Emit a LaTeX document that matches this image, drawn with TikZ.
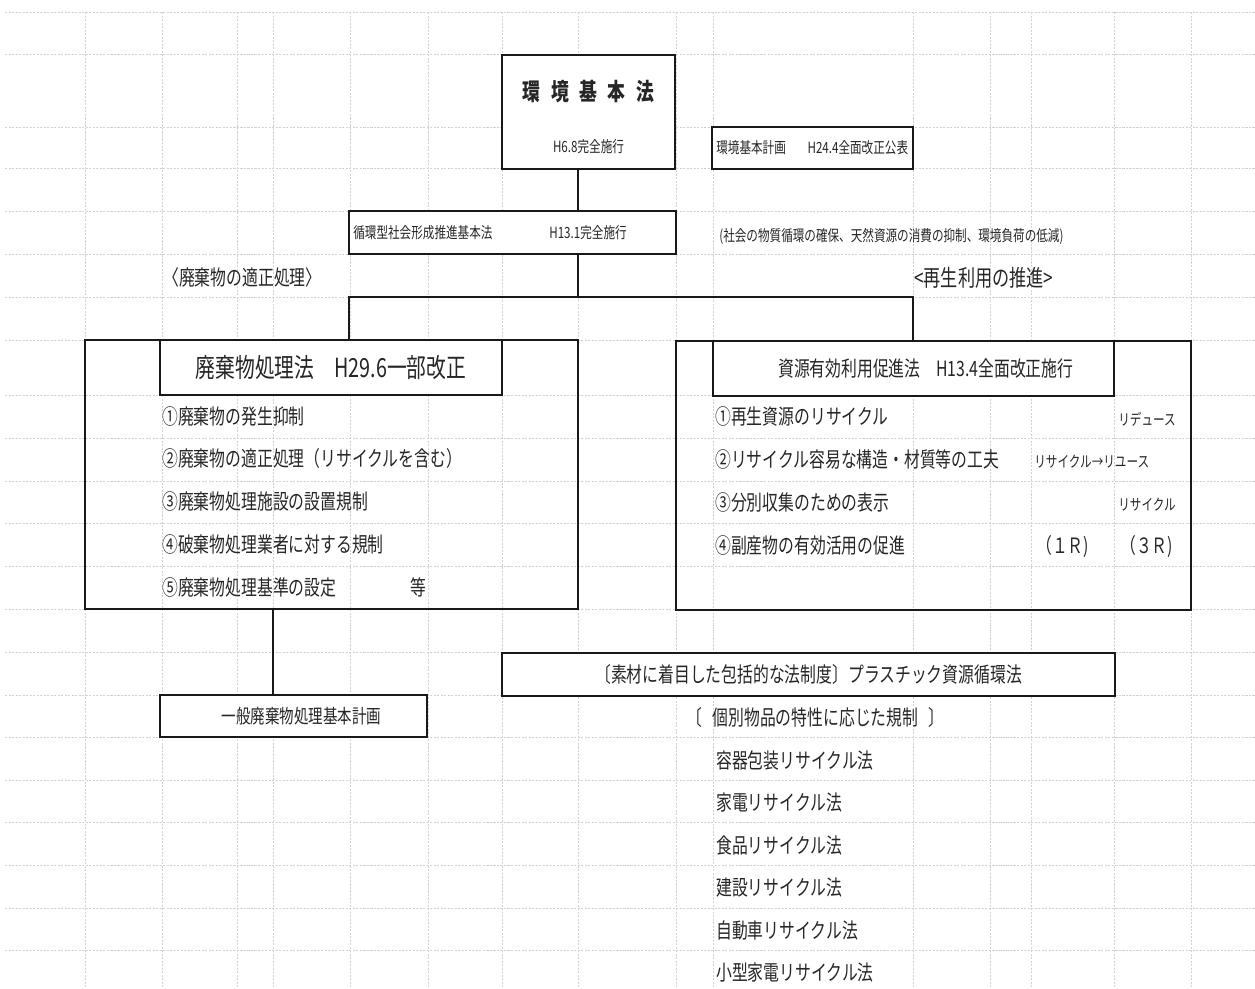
\documentclass[tikz,border=0pt]{standalone}
\usepackage{fontspec}
\setmainfont{Noto Sans CJK JP}[FakeStretch=0.75]
\newcommand{\szS}{\fontsize{8.8pt}{10pt}\selectfont}
\newcommand{\szI}{\fontsize{11pt}{13pt}\selectfont}
\newcommand{\szM}{\fontsize{12pt}{14pt}\selectfont}
\newcommand{\szN}{\fontsize{13pt}{15pt}\selectfont}
\newcommand{\szL}{\fontsize{15pt}{17pt}\selectfont}
\newcommand{\szT}{\fontsize{13.5pt}{15pt}\selectfont\bfseries}
\tikzset{
  gridline/.style={gray!35, line width=0.3pt, dash pattern=on 1.2pt off 0.8pt},
  cell/.style 2 args={draw=black!90, line width=1.1pt, fill=white, inner sep=0pt,
    text=black!85, minimum width=#1*0.02cm, minimum height=#2*0.02cm},
  bigbox/.style 2 args={cell={#1}{#2}, fill=none},
  txt/.style={inner sep=0pt, anchor=west, text=black!85},
  ctr/.style={inner sep=0pt, text=black!85},
  link/.style={draw=black!90, line width=1.1pt},
}

\begin{document}
\begin{tikzpicture}[x=0.02cm, y=-0.02cm]
\useasboundingbox (0,0) rectangle (1255,989);
% sheet grid
\foreach \x in {85,162,237,273,350,428,502,578,676,713,913,990,1031,1114,1191}
  \draw[gridline] (\x,12) -- (\x,989);
\foreach \y in {12,54,127,168,211,254,297,340,395,438,481,523,566,609,652,695,737,780,822,865,908,950}
  \draw[gridline] (5,\y) -- (1255,\y);

% top
\node[cell={173}{114}] (kihon) at (588.5,112) {};
\node[ctr, font=\szT] (kihonname) at (588.5,92) {環\hspace{6pt}境\hspace{6pt}基\hspace{6pt}本\hspace{6pt}法};
\node[ctr, font=\szS] (kihondate) at (588.5,147) {H6.8完全施行};
\node[cell={201}{42}] (keikaku) at (812.5,148) {};
\node[txt, font=\szS] (keikakuname) at (716,148) {環境基本計画\hspace{1.4em}H24.4全面改正公表};

\node[cell={327}{43}] (junkan) at (512.5,232.5) {};
\node[txt, font=\szS] (junkanname) at (353,233) {循環型社会形成推進基本法};
\node[txt, font=\szS] (junkandate) at (549,233) {H13.1完全施行};
\node[txt, font=\szS] (mokuteki) at (719,236) {(社会の物質循環の確保、天然資源の消費の抑制、環境負荷の低減)};

\node[txt, font=\szM] (tekisei) at (163,277) {〈廃棄物の適正処理〉};
\node[txt, font=\szN] (saisei) at (914,278) {<再生利用の推進>};

% two laws
\node[bigbox={493}{269}] (haiki) at (331.5,474.5) {};
\node[cell={342}{55}, font=\szL] (haikihead) at (331,367.5) {廃棄物処理法　H29.6一部改正\hspace{9pt}};
\foreach \t [count=\i] in {①廃棄物の発生抑制, ②廃棄物の適正処理（リサイクルを含む）, ③廃棄物処理施設の設置規制, ④破棄物処理業者に対する規制, ⑤廃棄物処理基準の設定}
  \node[txt, font=\szM] (haikiitem\i) at (162,{416+42.75*(\i-1)}) {\t};
\node[txt, font=\szM] (haikito) at (410,587) {等};

\node[bigbox={515}{269}] (shigen) at (933.5,475.5) {};
\node[cell={401}{55}, font=\szM] (shigenhead) at (913.5,368.5) {\hspace{14pt}資源有効利用促進法　H13.4全面改正施行};
\foreach \t [count=\i] in {①再生資源のリサイクル, ②リサイクル容易な構造・材質等の工夫, ③分別収集のための表示, ④副産物の有効活用の促進}
  \node[txt, font=\szM] (shigenitem\i) at (715,{416+43.3*(\i-1)}) {\t};
\node[txt, font=\szS] (reduce) at (1118,419) {リデュース};
\node[txt, font=\szS] (reuse) at (1034,462) {リサイクル→リユース};
\node[txt, font=\szS] (recycle) at (1118,505) {リサイクル};
\node[txt, font=\szM] (oner) at (1036,547) {（１Ｒ)};
\node[txt, font=\szM] (threer) at (1120,547) {（３Ｒ)};

\coordinate (bunki) at (578,297);
\coordinate (bunkil) at (349,297);
\coordinate (bunkir) at (913,297);
\draw[link] (kihon.south -| bunki) -- (junkan.north -| bunki);
\draw[link] (junkan.south -| bunki) -- (bunki);
\draw[link] (haiki.north -| bunkil) -- (bunkil) -- (bunkir) -- (shigen.north -| bunkir);

% bottom
\coordinate (ippanjoin) at (273,650);
\node[cell={267}{42}, font=\szI] (ippan) at (293.5,716) {\hspace{9pt}一般廃棄物処理基本計画};
\draw[link] (haiki.south -| ippanjoin) -- (ippan.north -| ippanjoin);

\node[cell={613}{43}, font=\szM] (plastic) at (808.5,674.5) {〔素材に着目した包括的な法制度〕プラスチック資源循環法};
\node[txt, font=\szM] (kobetsu) at (686,717) {〔\hspace{0.5em}個別物品の特性に応じた規制\hspace{0.5em}〕};
\foreach \t [count=\i] in {容器包装リサイクル法, 家電リサイクル法, 食品リサイクル法, 建設リサイクル法, 自動車リサイクル法, 小型家電リサイクル法}
  \node[txt, font=\szM] (kobetsu\i) at (716,{760+42.6*(\i-1)}) {\t};
\end{tikzpicture}
\end{document}
